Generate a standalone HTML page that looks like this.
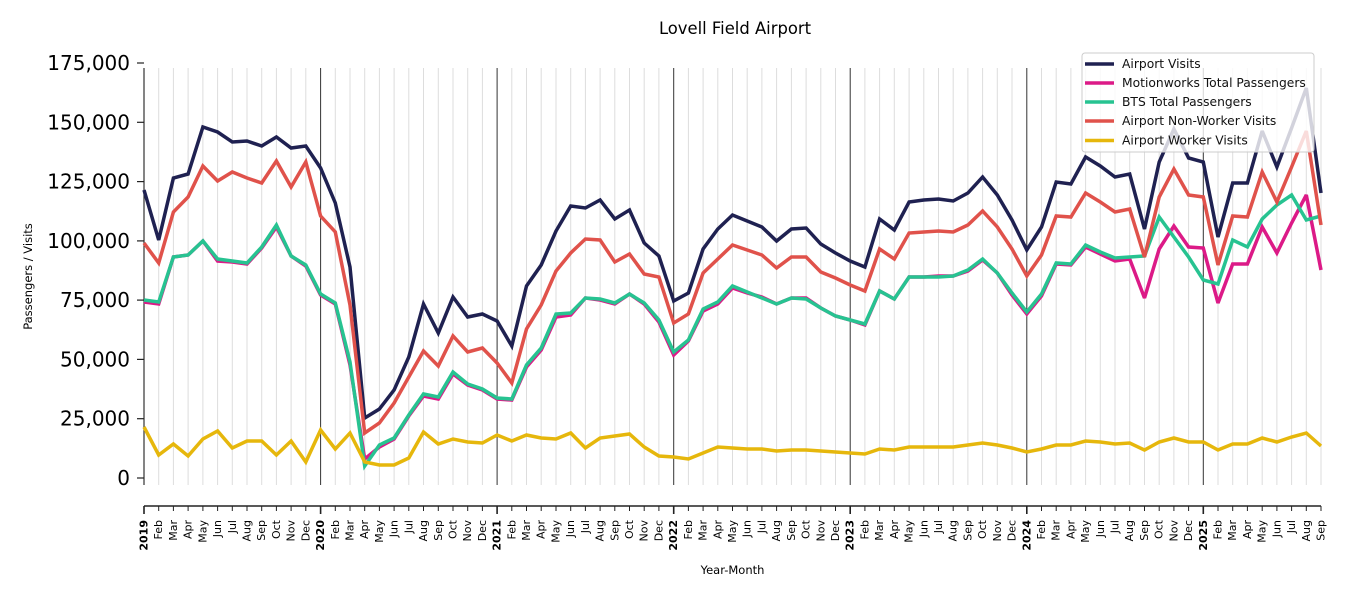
<!DOCTYPE html>
<html>
<head>
<meta charset="utf-8">
<style>
html,body{margin:0;padding:0;background:#fff;}
svg{display:block;font-family:"DejaVu Sans","Liberation Sans",sans-serif;}
</style>
</head>
<body>
<svg width="1350" height="600" viewBox="0 0 1350 600" xmlns="http://www.w3.org/2000/svg">
<rect width="1350" height="600" fill="#fff"/>
<text x="735" y="34" font-size="16.4" text-anchor="middle" fill="#000">Lovell Field Airport</text>

<!-- month gridlines -->
<g stroke="#dddddd" stroke-width="1">
<line x1="158.7" y1="68" x2="158.7" y2="485"/><line x1="173.4" y1="68" x2="173.4" y2="485"/><line x1="188.1" y1="68" x2="188.1" y2="485"/><line x1="202.9" y1="68" x2="202.9" y2="485"/><line x1="217.6" y1="68" x2="217.6" y2="485"/><line x1="232.3" y1="68" x2="232.3" y2="485"/><line x1="247" y1="68" x2="247" y2="485"/><line x1="261.7" y1="68" x2="261.7" y2="485"/><line x1="276.4" y1="68" x2="276.4" y2="485"/><line x1="291.1" y1="68" x2="291.1" y2="485"/><line x1="305.8" y1="68" x2="305.8" y2="485"/>
<line x1="335.3" y1="68" x2="335.3" y2="485"/><line x1="350" y1="68" x2="350" y2="485"/><line x1="364.7" y1="68" x2="364.7" y2="485"/><line x1="379.4" y1="68" x2="379.4" y2="485"/><line x1="394.1" y1="68" x2="394.1" y2="485"/><line x1="408.8" y1="68" x2="408.8" y2="485"/><line x1="423.5" y1="68" x2="423.5" y2="485"/><line x1="438.3" y1="68" x2="438.3" y2="485"/><line x1="453" y1="68" x2="453" y2="485"/><line x1="467.7" y1="68" x2="467.7" y2="485"/><line x1="482.4" y1="68" x2="482.4" y2="485"/>
<line x1="511.8" y1="68" x2="511.8" y2="485"/><line x1="526.5" y1="68" x2="526.5" y2="485"/><line x1="541.2" y1="68" x2="541.2" y2="485"/><line x1="556" y1="68" x2="556" y2="485"/><line x1="570.7" y1="68" x2="570.7" y2="485"/><line x1="585.4" y1="68" x2="585.4" y2="485"/><line x1="600.1" y1="68" x2="600.1" y2="485"/><line x1="614.8" y1="68" x2="614.8" y2="485"/><line x1="629.5" y1="68" x2="629.5" y2="485"/><line x1="644.2" y1="68" x2="644.2" y2="485"/><line x1="658.9" y1="68" x2="658.9" y2="485"/>
<line x1="688.4" y1="68" x2="688.4" y2="485"/><line x1="703.1" y1="68" x2="703.1" y2="485"/><line x1="717.8" y1="68" x2="717.8" y2="485"/><line x1="732.5" y1="68" x2="732.5" y2="485"/><line x1="747.2" y1="68" x2="747.2" y2="485"/><line x1="761.9" y1="68" x2="761.9" y2="485"/><line x1="776.6" y1="68" x2="776.6" y2="485"/><line x1="791.4" y1="68" x2="791.4" y2="485"/><line x1="806.1" y1="68" x2="806.1" y2="485"/><line x1="820.8" y1="68" x2="820.8" y2="485"/><line x1="835.5" y1="68" x2="835.5" y2="485"/>
<line x1="864.9" y1="68" x2="864.9" y2="485"/><line x1="879.6" y1="68" x2="879.6" y2="485"/><line x1="894.3" y1="68" x2="894.3" y2="485"/><line x1="909.1" y1="68" x2="909.1" y2="485"/><line x1="923.8" y1="68" x2="923.8" y2="485"/><line x1="938.5" y1="68" x2="938.5" y2="485"/><line x1="953.2" y1="68" x2="953.2" y2="485"/><line x1="967.9" y1="68" x2="967.9" y2="485"/><line x1="982.6" y1="68" x2="982.6" y2="485"/><line x1="997.3" y1="68" x2="997.3" y2="485"/><line x1="1012" y1="68" x2="1012" y2="485"/>
<line x1="1041.5" y1="68" x2="1041.5" y2="485"/><line x1="1056.2" y1="68" x2="1056.2" y2="485"/><line x1="1070.9" y1="68" x2="1070.9" y2="485"/><line x1="1085.6" y1="68" x2="1085.6" y2="485"/><line x1="1100.3" y1="68" x2="1100.3" y2="485"/><line x1="1115" y1="68" x2="1115" y2="485"/><line x1="1129.7" y1="68" x2="1129.7" y2="485"/><line x1="1144.5" y1="68" x2="1144.5" y2="485"/><line x1="1159.2" y1="68" x2="1159.2" y2="485"/><line x1="1173.9" y1="68" x2="1173.9" y2="485"/><line x1="1188.6" y1="68" x2="1188.6" y2="485"/>
<line x1="1218" y1="68" x2="1218" y2="485"/><line x1="1232.7" y1="68" x2="1232.7" y2="485"/><line x1="1247.4" y1="68" x2="1247.4" y2="485"/><line x1="1262.2" y1="68" x2="1262.2" y2="485"/><line x1="1276.9" y1="68" x2="1276.9" y2="485"/><line x1="1291.6" y1="68" x2="1291.6" y2="485"/><line x1="1306.3" y1="68" x2="1306.3" y2="485"/><line x1="1321" y1="68" x2="1321" y2="485"/>
</g>
<!-- year lines -->
<g stroke="#333" stroke-width="1">
<line x1="320.6" y1="68" x2="320.6" y2="485"/><line x1="497.1" y1="68" x2="497.1" y2="485"/><line x1="673.7" y1="68" x2="673.7" y2="485"/><line x1="850.2" y1="68" x2="850.2" y2="485"/><line x1="1026.8" y1="68" x2="1026.8" y2="485"/><line x1="1203.3" y1="68" x2="1203.3" y2="485"/>
</g>
<!-- left spine -->
<line x1="144" y1="68" x2="144" y2="485" stroke="#333" stroke-width="1.2"/>
<!-- y ticks -->
<g stroke="#222" stroke-width="1.2">
<line x1="137" y1="63" x2="144" y2="63"/><line x1="137" y1="122.3" x2="144" y2="122.3"/><line x1="137" y1="181.6" x2="144" y2="181.6"/><line x1="137" y1="240.9" x2="144" y2="240.9"/><line x1="137" y1="300.1" x2="144" y2="300.1"/><line x1="137" y1="359.4" x2="144" y2="359.4"/><line x1="137" y1="418.7" x2="144" y2="418.7"/><line x1="137" y1="478" x2="144" y2="478"/>
</g>
<g font-size="20" text-anchor="end" fill="#000" dominant-baseline="central">
<text x="130" y="63">175,000</text><text x="130" y="122.3">150,000</text><text x="130" y="181.6">125,000</text><text x="130" y="240.9">100,000</text><text x="130" y="300.1">75,000</text><text x="130" y="359.4">50,000</text><text x="130" y="418.7">25,000</text><text x="130" y="478">0</text>
</g>
<text transform="translate(28,276.5) rotate(-90)" font-size="11.5" text-anchor="middle" dominant-baseline="central" fill="#000">Passengers / Visits</text>

<!-- series -->
<g fill="none" stroke-width="3.5" stroke-linejoin="miter" stroke-miterlimit="3">
<polyline stroke="#1f2151" points="144,190 158.7,240 173.4,178 188.1,174 202.9,127 217.6,132 232.3,142 247,141 261.7,146 276.4,137 291.1,148 305.8,146 320.6,168 335.3,203 350,267 364.7,418 379.4,409 394.1,390 408.8,357 423.5,304 438.3,333 453,297 467.7,317 482.4,314 497.1,321 511.8,346 526.5,286 541.2,265 556,231 570.7,206 585.4,208 600.1,200 614.8,219 629.5,210 644.2,243 658.9,256 673.7,301 688.4,293 703.1,249 717.8,229 732.5,215 747.2,221 761.9,227 776.6,241 791.4,229 806.1,228 820.8,244 835.5,253 850.2,261 864.9,267 879.6,219 894.3,230 909.1,202 923.8,200 938.5,199 953.2,201 967.9,193 982.6,177 997.3,195 1012,220 1026.8,250 1041.5,227 1056.2,182 1070.9,184 1085.6,157 1100.3,166 1115,177 1129.7,174 1144.5,229 1159.2,162 1173.9,129 1188.6,158 1203.3,162 1218,237 1232.7,183 1247.4,183 1262.2,131 1276.9,167 1291.6,128 1306.3,88 1321,193"/>
<polyline stroke="#dc1a87" points="144,302 158.7,304 173.4,257 188.1,255 202.9,241 217.6,261 232.3,262 247,264 261.7,248 276.4,227 291.1,256 305.8,266 320.6,295 335.3,304 350,365 364.7,459 379.4,447 394.1,439 408.8,416 423.5,396 438.3,399 453,374 467.7,385 482.4,390 497.1,399 511.8,400 526.5,367 541.2,350 556,317 570.7,315 585.4,298 600.1,300 614.8,304 629.5,294 644.2,304 658.9,322 673.7,355 688.4,341 703.1,311 717.8,304 732.5,288 747.2,293 761.9,297 776.6,304 791.4,298 806.1,298 820.8,308 835.5,316 850.2,320 864.9,325 879.6,291 894.3,299 909.1,277 923.8,277 938.5,276 953.2,276 967.9,271 982.6,260 997.3,273 1012,295 1026.8,314 1041.5,296 1056.2,264 1070.9,265 1085.6,247 1100.3,254 1115,261 1129.7,259 1144.5,298 1159.2,249 1173.9,226 1188.6,247 1203.3,248 1218,303 1232.7,264 1247.4,264 1262.2,227 1276.9,253 1291.6,223 1306.3,195 1321,270"/>
<polyline stroke="#27c391" points="144,300 158.7,302 173.4,257 188.1,255 202.9,241 217.6,259 232.3,261 247,263 261.7,247 276.4,225 291.1,256 305.8,265 320.6,294 335.3,303 350,362 364.7,466 379.4,445 394.1,438 408.8,415 423.5,394 438.3,397 453,372 467.7,384 482.4,389 497.1,398 511.8,399 526.5,365 541.2,348 556,314 570.7,313 585.4,298 600.1,299 614.8,303 629.5,294 644.2,303 658.9,320 673.7,352 688.4,340 703.1,309 717.8,302 732.5,286 747.2,292 761.9,298 776.6,304 791.4,298 806.1,299 820.8,308 835.5,316 850.2,320 864.9,324 879.6,291 894.3,299 909.1,277 923.8,277 938.5,277 953.2,276 967.9,270 982.6,259 997.3,273 1012,293 1026.8,312 1041.5,294 1056.2,263 1070.9,264 1085.6,245 1100.3,252 1115,258 1129.7,257 1144.5,256 1159.2,217 1173.9,237 1188.6,257 1203.3,280 1218,284 1232.7,240 1247.4,247 1262.2,219 1276.9,205 1291.6,195 1306.3,220 1321,216"/>
<polyline stroke="#e0524b" points="144,243 158.7,263 173.4,212 188.1,197 202.9,166 217.6,181 232.3,172 247,178 261.7,183 276.4,161 291.1,187 305.8,162 320.6,216 335.3,232 350,305 364.7,433 379.4,423 394.1,403 408.8,377 423.5,351 438.3,366 453,336 467.7,352 482.4,348 497.1,363 511.8,383 526.5,329 541.2,305 556,271 570.7,253 585.4,239 600.1,240 614.8,262 629.5,254 644.2,274 658.9,277 673.7,323 688.4,314 703.1,273 717.8,259 732.5,245 747.2,250 761.9,255 776.6,268 791.4,257 806.1,257 820.8,272 835.5,278 850.2,285 864.9,291 879.6,249 894.3,259 909.1,233 923.8,232 938.5,231 953.2,232 967.9,225 982.6,211 997.3,227 1012,249 1026.8,276 1041.5,255 1056.2,216 1070.9,217 1085.6,193 1100.3,202 1115,212 1129.7,209 1144.5,257 1159.2,197 1173.9,169 1188.6,195 1203.3,197 1218,265 1232.7,216 1247.4,217 1262.2,172 1276.9,202 1291.6,167 1306.3,131 1321,225"/>
<polyline stroke="#e6b70c" points="144,427 158.7,455 173.4,444 188.1,456 202.9,439 217.6,431 232.3,448 247,441 261.7,441 276.4,455 291.1,441 305.8,462 320.6,430 335.3,449 350,433 364.7,462 379.4,465 394.1,465 408.8,458 423.5,432 438.3,444 453,439 467.7,442 482.4,443 497.1,435 511.8,441 526.5,435 541.2,438 556,439 570.7,433 585.4,448 600.1,438 614.8,436 629.5,434 644.2,447 658.9,456 673.7,457 688.4,459 703.1,453 717.8,447 732.5,448 747.2,449 761.9,449 776.6,451 791.4,450 806.1,450 820.8,451 835.5,452 850.2,453 864.9,454 879.6,449 894.3,450 909.1,447 923.8,447 938.5,447 953.2,447 967.9,445 982.6,443 997.3,445 1012,448 1026.8,452 1041.5,449 1056.2,445 1070.9,445 1085.6,441 1100.3,442 1115,444 1129.7,443 1144.5,450 1159.2,442 1173.9,438 1188.6,442 1203.3,442 1218,450 1232.7,444 1247.4,444 1262.2,438 1276.9,442 1291.6,437 1306.3,433 1321,446"/>
</g>

<!-- legend -->
<rect x="1082" y="53" width="232" height="99" rx="3" fill="#fff" fill-opacity="0.8" stroke="#cccccc" stroke-width="1"/>
<g stroke-width="3.5">
<line x1="1085" y1="64" x2="1114" y2="64" stroke="#1f2151"/>
<line x1="1085" y1="83" x2="1114" y2="83" stroke="#dc1a87"/>
<line x1="1085" y1="102" x2="1114" y2="102" stroke="#27c391"/>
<line x1="1085" y1="121" x2="1114" y2="121" stroke="#e0524b"/>
<line x1="1085" y1="140.5" x2="1114" y2="140.5" stroke="#e6b70c"/>
</g>
<g font-size="12.3" fill="#111" dominant-baseline="central">
<text x="1122" y="64">Airport Visits</text>
<text x="1122" y="83">Motionworks Total Passengers</text>
<text x="1122" y="102">BTS Total Passengers</text>
<text x="1122" y="121">Airport Non-Worker Visits</text>
<text x="1122" y="140.5">Airport Worker Visits</text>
</g>

<!-- bottom axis -->
<line x1="144" y1="506" x2="1321" y2="506" stroke="#222" stroke-width="1.6"/>
<g stroke="#222" stroke-width="1.6">
<line x1="144" y1="506" x2="144" y2="514"/><line x1="320.6" y1="506" x2="320.6" y2="514"/><line x1="497.1" y1="506" x2="497.1" y2="514"/><line x1="673.7" y1="506" x2="673.7" y2="514"/><line x1="850.2" y1="506" x2="850.2" y2="514"/><line x1="1026.8" y1="506" x2="1026.8" y2="514"/><line x1="1203.3" y1="506" x2="1203.3" y2="514"/>
</g>
<g stroke="#222" stroke-width="1">
<line x1="158.7" y1="506" x2="158.7" y2="511"/><line x1="173.4" y1="506" x2="173.4" y2="511"/><line x1="188.1" y1="506" x2="188.1" y2="511"/><line x1="202.9" y1="506" x2="202.9" y2="511"/><line x1="217.6" y1="506" x2="217.6" y2="511"/><line x1="232.3" y1="506" x2="232.3" y2="511"/><line x1="247" y1="506" x2="247" y2="511"/><line x1="261.7" y1="506" x2="261.7" y2="511"/><line x1="276.4" y1="506" x2="276.4" y2="511"/><line x1="291.1" y1="506" x2="291.1" y2="511"/><line x1="305.8" y1="506" x2="305.8" y2="511"/>
<line x1="335.3" y1="506" x2="335.3" y2="511"/><line x1="350" y1="506" x2="350" y2="511"/><line x1="364.7" y1="506" x2="364.7" y2="511"/><line x1="379.4" y1="506" x2="379.4" y2="511"/><line x1="394.1" y1="506" x2="394.1" y2="511"/><line x1="408.8" y1="506" x2="408.8" y2="511"/><line x1="423.5" y1="506" x2="423.5" y2="511"/><line x1="438.3" y1="506" x2="438.3" y2="511"/><line x1="453" y1="506" x2="453" y2="511"/><line x1="467.7" y1="506" x2="467.7" y2="511"/><line x1="482.4" y1="506" x2="482.4" y2="511"/>
<line x1="511.8" y1="506" x2="511.8" y2="511"/><line x1="526.5" y1="506" x2="526.5" y2="511"/><line x1="541.2" y1="506" x2="541.2" y2="511"/><line x1="556" y1="506" x2="556" y2="511"/><line x1="570.7" y1="506" x2="570.7" y2="511"/><line x1="585.4" y1="506" x2="585.4" y2="511"/><line x1="600.1" y1="506" x2="600.1" y2="511"/><line x1="614.8" y1="506" x2="614.8" y2="511"/><line x1="629.5" y1="506" x2="629.5" y2="511"/><line x1="644.2" y1="506" x2="644.2" y2="511"/><line x1="658.9" y1="506" x2="658.9" y2="511"/>
<line x1="688.4" y1="506" x2="688.4" y2="511"/><line x1="703.1" y1="506" x2="703.1" y2="511"/><line x1="717.8" y1="506" x2="717.8" y2="511"/><line x1="732.5" y1="506" x2="732.5" y2="511"/><line x1="747.2" y1="506" x2="747.2" y2="511"/><line x1="761.9" y1="506" x2="761.9" y2="511"/><line x1="776.6" y1="506" x2="776.6" y2="511"/><line x1="791.4" y1="506" x2="791.4" y2="511"/><line x1="806.1" y1="506" x2="806.1" y2="511"/><line x1="820.8" y1="506" x2="820.8" y2="511"/><line x1="835.5" y1="506" x2="835.5" y2="511"/>
<line x1="864.9" y1="506" x2="864.9" y2="511"/><line x1="879.6" y1="506" x2="879.6" y2="511"/><line x1="894.3" y1="506" x2="894.3" y2="511"/><line x1="909.1" y1="506" x2="909.1" y2="511"/><line x1="923.8" y1="506" x2="923.8" y2="511"/><line x1="938.5" y1="506" x2="938.5" y2="511"/><line x1="953.2" y1="506" x2="953.2" y2="511"/><line x1="967.9" y1="506" x2="967.9" y2="511"/><line x1="982.6" y1="506" x2="982.6" y2="511"/><line x1="997.3" y1="506" x2="997.3" y2="511"/><line x1="1012" y1="506" x2="1012" y2="511"/>
<line x1="1041.5" y1="506" x2="1041.5" y2="511"/><line x1="1056.2" y1="506" x2="1056.2" y2="511"/><line x1="1070.9" y1="506" x2="1070.9" y2="511"/><line x1="1085.6" y1="506" x2="1085.6" y2="511"/><line x1="1100.3" y1="506" x2="1100.3" y2="511"/><line x1="1115" y1="506" x2="1115" y2="511"/><line x1="1129.7" y1="506" x2="1129.7" y2="511"/><line x1="1144.5" y1="506" x2="1144.5" y2="511"/><line x1="1159.2" y1="506" x2="1159.2" y2="511"/><line x1="1173.9" y1="506" x2="1173.9" y2="511"/><line x1="1188.6" y1="506" x2="1188.6" y2="511"/>
<line x1="1218" y1="506" x2="1218" y2="511"/><line x1="1232.7" y1="506" x2="1232.7" y2="511"/><line x1="1247.4" y1="506" x2="1247.4" y2="511"/><line x1="1262.2" y1="506" x2="1262.2" y2="511"/><line x1="1276.9" y1="506" x2="1276.9" y2="511"/><line x1="1291.6" y1="506" x2="1291.6" y2="511"/><line x1="1306.3" y1="506" x2="1306.3" y2="511"/><line x1="1321" y1="506" x2="1321" y2="511"/>
</g>

<!-- x tick labels -->
<g font-size="11" fill="#000" text-anchor="end" dominant-baseline="central">
<text transform="translate(144,520) rotate(-90)" font-weight="bold">2019</text>
<text transform="translate(158.7,520) rotate(-90)">Feb</text><text transform="translate(173.4,520) rotate(-90)">Mar</text><text transform="translate(188.1,520) rotate(-90)">Apr</text><text transform="translate(202.9,520) rotate(-90)">May</text><text transform="translate(217.6,520) rotate(-90)">Jun</text><text transform="translate(232.3,520) rotate(-90)">Jul</text><text transform="translate(247,520) rotate(-90)">Aug</text><text transform="translate(261.7,520) rotate(-90)">Sep</text><text transform="translate(276.4,520) rotate(-90)">Oct</text><text transform="translate(291.1,520) rotate(-90)">Nov</text><text transform="translate(305.8,520) rotate(-90)">Dec</text>
<text transform="translate(320.6,520) rotate(-90)" font-weight="bold">2020</text>
<text transform="translate(335.3,520) rotate(-90)">Feb</text><text transform="translate(350,520) rotate(-90)">Mar</text><text transform="translate(364.7,520) rotate(-90)">Apr</text><text transform="translate(379.4,520) rotate(-90)">May</text><text transform="translate(394.1,520) rotate(-90)">Jun</text><text transform="translate(408.8,520) rotate(-90)">Jul</text><text transform="translate(423.5,520) rotate(-90)">Aug</text><text transform="translate(438.3,520) rotate(-90)">Sep</text><text transform="translate(453,520) rotate(-90)">Oct</text><text transform="translate(467.7,520) rotate(-90)">Nov</text><text transform="translate(482.4,520) rotate(-90)">Dec</text>
<text transform="translate(497.1,520) rotate(-90)" font-weight="bold">2021</text>
<text transform="translate(511.8,520) rotate(-90)">Feb</text><text transform="translate(526.5,520) rotate(-90)">Mar</text><text transform="translate(541.2,520) rotate(-90)">Apr</text><text transform="translate(556,520) rotate(-90)">May</text><text transform="translate(570.7,520) rotate(-90)">Jun</text><text transform="translate(585.4,520) rotate(-90)">Jul</text><text transform="translate(600.1,520) rotate(-90)">Aug</text><text transform="translate(614.8,520) rotate(-90)">Sep</text><text transform="translate(629.5,520) rotate(-90)">Oct</text><text transform="translate(644.2,520) rotate(-90)">Nov</text><text transform="translate(658.9,520) rotate(-90)">Dec</text>
<text transform="translate(673.7,520) rotate(-90)" font-weight="bold">2022</text>
<text transform="translate(688.4,520) rotate(-90)">Feb</text><text transform="translate(703.1,520) rotate(-90)">Mar</text><text transform="translate(717.8,520) rotate(-90)">Apr</text><text transform="translate(732.5,520) rotate(-90)">May</text><text transform="translate(747.2,520) rotate(-90)">Jun</text><text transform="translate(761.9,520) rotate(-90)">Jul</text><text transform="translate(776.6,520) rotate(-90)">Aug</text><text transform="translate(791.4,520) rotate(-90)">Sep</text><text transform="translate(806.1,520) rotate(-90)">Oct</text><text transform="translate(820.8,520) rotate(-90)">Nov</text><text transform="translate(835.5,520) rotate(-90)">Dec</text>
<text transform="translate(850.2,520) rotate(-90)" font-weight="bold">2023</text>
<text transform="translate(864.9,520) rotate(-90)">Feb</text><text transform="translate(879.6,520) rotate(-90)">Mar</text><text transform="translate(894.3,520) rotate(-90)">Apr</text><text transform="translate(909.1,520) rotate(-90)">May</text><text transform="translate(923.8,520) rotate(-90)">Jun</text><text transform="translate(938.5,520) rotate(-90)">Jul</text><text transform="translate(953.2,520) rotate(-90)">Aug</text><text transform="translate(967.9,520) rotate(-90)">Sep</text><text transform="translate(982.6,520) rotate(-90)">Oct</text><text transform="translate(997.3,520) rotate(-90)">Nov</text><text transform="translate(1012,520) rotate(-90)">Dec</text>
<text transform="translate(1026.8,520) rotate(-90)" font-weight="bold">2024</text>
<text transform="translate(1041.5,520) rotate(-90)">Feb</text><text transform="translate(1056.2,520) rotate(-90)">Mar</text><text transform="translate(1070.9,520) rotate(-90)">Apr</text><text transform="translate(1085.6,520) rotate(-90)">May</text><text transform="translate(1100.3,520) rotate(-90)">Jun</text><text transform="translate(1115,520) rotate(-90)">Jul</text><text transform="translate(1129.7,520) rotate(-90)">Aug</text><text transform="translate(1144.5,520) rotate(-90)">Sep</text><text transform="translate(1159.2,520) rotate(-90)">Oct</text><text transform="translate(1173.9,520) rotate(-90)">Nov</text><text transform="translate(1188.6,520) rotate(-90)">Dec</text>
<text transform="translate(1203.3,520) rotate(-90)" font-weight="bold">2025</text>
<text transform="translate(1218,520) rotate(-90)">Feb</text><text transform="translate(1232.7,520) rotate(-90)">Mar</text><text transform="translate(1247.4,520) rotate(-90)">Apr</text><text transform="translate(1262.2,520) rotate(-90)">May</text><text transform="translate(1276.9,520) rotate(-90)">Jun</text><text transform="translate(1291.6,520) rotate(-90)">Jul</text><text transform="translate(1306.3,520) rotate(-90)">Aug</text><text transform="translate(1321,520) rotate(-90)">Sep</text>
</g>
<text x="732.5" y="574" font-size="11.5" text-anchor="middle" fill="#000">Year-Month</text>
</svg>
</body>
</html>
